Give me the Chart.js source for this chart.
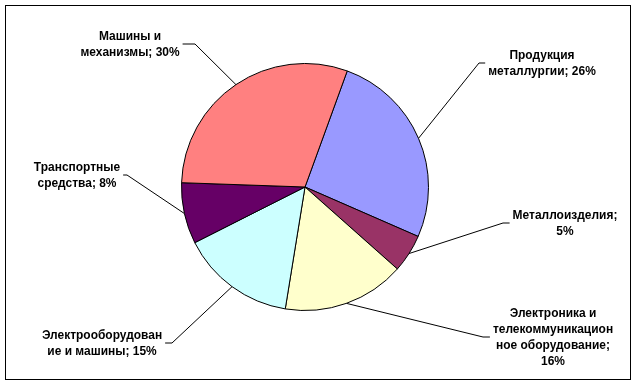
<!DOCTYPE html>
<html>
<head>
<meta charset="utf-8">
<script src="https://cdn.jsdelivr.net/npm/chart.js@4/dist/chart.umd.min.js"></script>
<style>
  html, body { margin: 0; padding: 0; background: #fff; }
  #wrap { width: 637px; height: 385px; }
</style>
</head>
<body>
<div id="wrap"><canvas id="pie" width="637" height="385"></canvas></div>
<script>
// данные
var categories = ['Продукция металлургии', 'Металлоизделия', 'Электроника и телекоммуникационное оборудование',
                  'Электрооборудование и машины', 'Транспортные средства', 'Машины и механизмы'];
var shares = [26, 5, 16, 15, 8, 30];
var labelLines = [
    ['Продукция', 'металлургии; 26%'],
    ['Металлоизделия;', '5%'],
    ['Электроника и', 'телекоммуникацион', 'ное оборудование;', '16%'],
    ['Электрооборудован', 'ие и машины; 15%'],
    ['Транспортные', 'средства; 8%'],
    ['Машины и', 'механизмы; 30%']
];
var colors = ['#9999FF', '#993366', '#FFFFCC', '#CCFFFF', '#660066', '#FF8080'];

// где стоят подписи (центр блока текста) и излом выноски
var labelPos = [
    { x: 542, y: 63,  elbow: 479, side: 'right' },
    { x: 565, y: 223, elbow: 503, side: 'right' },
    { x: 553, y: 337, elbow: 483, side: 'right' },
    { x: 102, y: 343, elbow: 172, side: 'left' },
    { x: 77,  y: 175, elbow: 127, side: 'left' },
    { x: 130, y: 44,  elbow: 195, side: 'left' }
];

var LH = 16;
var SX = 0.92; // текст в оригинале чуть уже
var FONT = 'bold 13px Arial, "Liberation Sans", sans-serif';

var labelsPlugin = {
    id: 'pieLabels',
    afterDatasetsDraw: function (chart) {
        var ctx = chart.ctx;
        var meta = chart.getDatasetMeta(0);
        ctx.save();
        ctx.font = FONT;
        ctx.fillStyle = '#000';
        ctx.strokeStyle = '#000';
        ctx.lineWidth = 1;
        meta.data.forEach(function (arc, i) {
            var p = arc.getProps(['x', 'y', 'startAngle', 'endAngle', 'outerRadius'], true);
            var mid = (p.startAngle + p.endAngle) / 2;
            var ex = p.x + Math.cos(mid) * p.outerRadius;
            var ey = p.y + Math.sin(mid) * p.outerRadius;
            var lp = labelPos[i];
            var lines = labelLines[i];
            var w = 0;
            lines.forEach(function (t) { w = Math.max(w, ctx.measureText(t).width * SX); });
            var textEdge = lp.side === 'right' ? lp.x - w / 2 - 3 : lp.x + w / 2 + 3;
            ctx.beginPath();
            ctx.moveTo(ex, ey);
            ctx.lineTo(lp.elbow, lp.y);
            ctx.lineTo(textEdge, lp.y);
            ctx.stroke();
            ctx.save();
            ctx.translate(lp.x, 0);
            ctx.scale(SX, 1);
            ctx.textAlign = 'center';
            ctx.textBaseline = 'middle';
            lines.forEach(function (t, k) {
                ctx.fillText(t, 0, lp.y + (k - (lines.length - 1) / 2) * LH);
            });
            ctx.restore();
        });
        ctx.restore();
    },
    afterDraw: function (chart) {
        var ctx = chart.ctx;
        ctx.save();
        ctx.strokeStyle = '#000';
        ctx.lineWidth = 1;
        ctx.strokeRect(5.5, 5.5, 625, 374);
        ctx.restore();
    }
};

new Chart(document.getElementById('pie').getContext('2d'), {
    type: 'pie',
    data: {
        labels: categories,
        datasets: [{
            data: shares,
            backgroundColor: colors,
            borderColor: '#000',
            borderWidth: 1
        }]
    },
    options: {
        responsive: false,
        animation: false,
        rotation: 20,
        layout: { padding: { left: 181, right: 208, top: 63, bottom: 74 } },
        plugins: {
            legend: { display: false },
            tooltip: { enabled: false }
        }
    },
    plugins: [labelsPlugin]
});
</script>
</body>
</html>
